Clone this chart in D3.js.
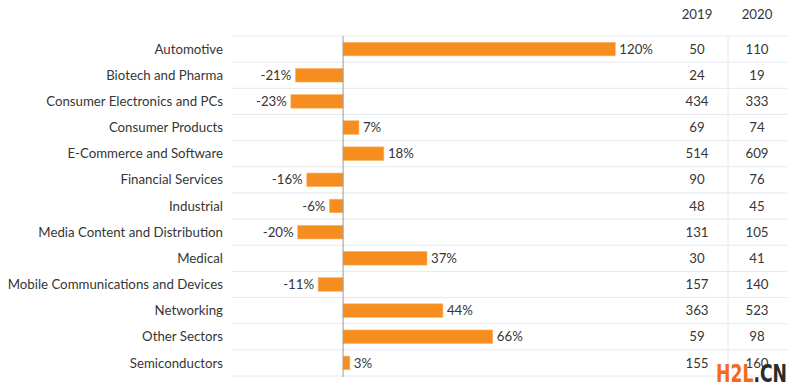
<!DOCTYPE html>
<html>
<head>
<meta charset="utf-8">
<script src="https://cdn.jsdelivr.net/npm/d3@7"></script>
<style>
  html, body { margin: 0; padding: 0; background: #fff; }
  svg { display: block; font-family: Lato, "Open Sans", sans-serif; }
</style>
</head>
<body>
<svg id="chart" width="800" height="392"></svg>
<script>
const categories = [
  "Automotive", "Biotech and Pharma", "Consumer Electronics and PCs",
  "Consumer Products", "E-Commerce and Software", "Financial Services",
  "Industrial", "Media Content and Distribution", "Medical",
  "Mobile Communications and Devices", "Networking", "Other Sectors",
  "Semiconductors"
];
const changePct = [120, -21, -23, 7, 18, -16, -6, -20, 37, -11, 44, 66, 3];
const values2019 = [50, 24, 434, 69, 514, 90, 48, 131, 30, 157, 363, 59, 155];
const values2020 = [110, 19, 333, 74, 609, 76, 45, 105, 41, 140, 523, 98, 160];
const columnHeaders = ["2019", "2020"];

const svg = d3.select("#chart");
const textColor = "#363636";
const gridColor = "#e4e8ef";
const barColor = "#f68d1f";
const fs = 13.25;

const y = d3.scaleBand().domain(categories).range([36, 376])
  .paddingInner(0.48).paddingOuter(0.24);
const x = d3.scaleLinear().domain([-30, 130]).range([275, 638]);
const colX = d3.scalePoint().domain(columnHeaders).range([697, 757]);

const rows = categories.map((c, i) => ({
  cat: c, pct: changePct[i], v19: values2019[i], v20: values2020[i]
}));

// horizontal separators
const seps = d3.range(categories.length + 1).map(i => 36 + i * y.step());
svg.append("g").selectAll("line").data(seps).join("line")
  .attr("x1", 232).attr("x2", 787)
  .attr("y1", d => d).attr("y2", d => d)
  .attr("stroke", gridColor).attr("stroke-width", 1);

// table divider
svg.append("line")
  .attr("x1", 728).attr("x2", 728).attr("y1", 36).attr("y2", 376)
  .attr("stroke", gridColor).attr("stroke-width", 1);

// bars
svg.append("g").selectAll("rect").data(rows).join("rect")
  .attr("x", d => x(Math.min(0, d.pct)))
  .attr("width", d => Math.abs(x(d.pct) - x(0)))
  .attr("y", d => y(d.cat))
  .attr("height", y.bandwidth())
  .attr("fill", barColor)
  .attr("stroke", "#fbb56a").attr("stroke-width", 0.6);

// zero line
svg.append("line")
  .attr("x1", x(0)).attr("x2", x(0)).attr("y1", 36).attr("y2", 377)
  .attr("stroke", "#9a9a9a").attr("stroke-width", 1);

// category labels
svg.append("g").selectAll("text").data(rows).join("text")
  .attr("x", 223)
  .attr("y", d => y(d.cat) + y.bandwidth() / 2)
  .attr("dy", "0.35em")
  .attr("text-anchor", "end")
  .attr("font-size", fs)
  .attr("fill", textColor)
  .text(d => d.cat);

// value labels
svg.append("g").selectAll("text").data(rows).join("text")
  .attr("x", d => d.pct >= 0 ? x(d.pct) + 4 : x(d.pct) - 4)
  .attr("y", d => y(d.cat) + y.bandwidth() / 2)
  .attr("dy", "0.35em")
  .attr("text-anchor", d => d.pct >= 0 ? "start" : "end")
  .attr("font-size", fs)
  .attr("fill", textColor)
  .text(d => d.pct + "%");

// column headers
svg.append("g").selectAll("text").data(columnHeaders).join("text")
  .attr("x", d => colX(d)).attr("y", 14).attr("dy", "0.35em")
  .attr("text-anchor", "middle").attr("font-size", fs).attr("fill", textColor)
  .text(d => d);

// table values
const cols = [["2019", "v19"], ["2020", "v20"]];
cols.forEach(([h, key]) => {
  svg.append("g").selectAll("text").data(rows).join("text")
    .attr("x", colX(h))
    .attr("y", d => y(d.cat) + y.bandwidth() / 2)
    .attr("dy", "0.35em")
    .attr("text-anchor", "middle")
    .attr("font-size", fs)
    .attr("fill", textColor)
    .text(d => d[key]);
});

// watermark
const wm = svg.append("text")
  .attr("x", 716).attr("y", 382)
  .attr("font-size", 25).attr("font-weight", "bold")
  .attr("font-family", "'Liberation Sans Narrow', 'DejaVu Sans Condensed', Arial, sans-serif")
  .attr("textLength", 71).attr("lengthAdjust", "spacingAndGlyphs");
wm.append("tspan").attr("fill", "#f26a1b").text("H2L");
wm.append("tspan").attr("fill", "#2b2b2b").text(".CN");
</script>
</body>
</html>
